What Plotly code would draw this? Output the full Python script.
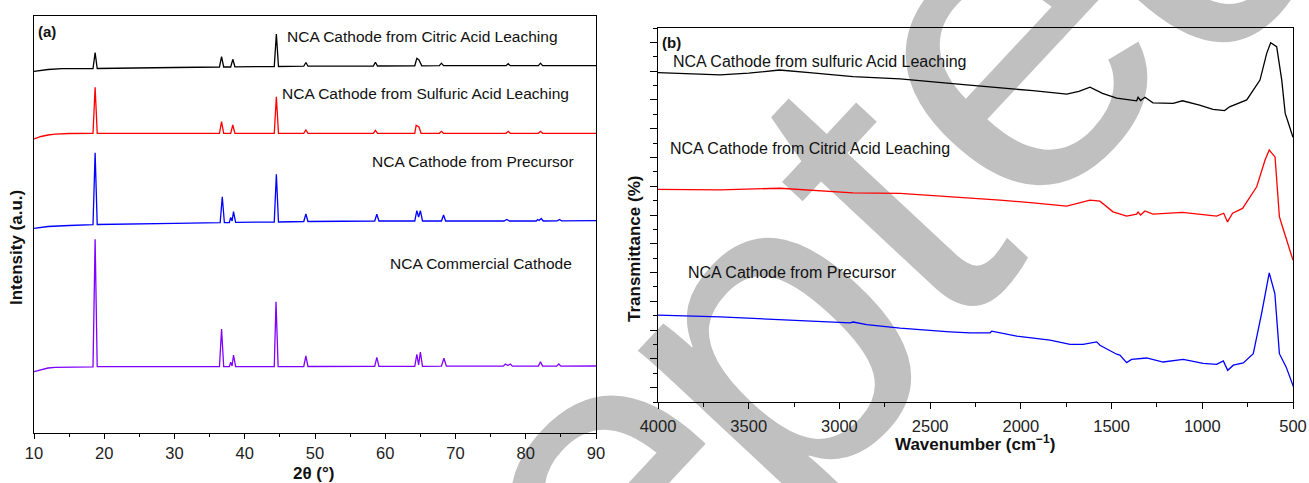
import plotly.graph_objects as go

W, H = 1309, 483
FONT = "Liberation Sans, Arial, sans-serif"

# ---------------- Panel (a): XRD ----------------
xrd_citric_angle = [10, 12, 14, 18.4, 18.7, 19.0, 30, 36.4, 36.7, 37.0, 38.0, 38.3, 38.6, 44.2, 44.5, 44.8,
                    48.4, 48.7, 49.0, 58.3, 58.6, 58.9, 64.2, 64.5, 64.8, 65.2, 67.7, 68.0, 68.3,
                    77.2, 77.5, 77.8, 81.8, 82.1, 82.4, 90]
xrd_citric_int = [361.7, 363.5, 364.3, 364.5, 380.3, 364.5, 365.5, 366.0, 376.3, 366.0, 366.0, 373.7, 366.2,
                  366.5, 399.0, 366.5, 366.8, 370.5, 366.8, 367.0, 370.7, 367.0, 367.2, 374.7, 373.0, 367.2,
                  367.3, 369.8, 367.3, 367.3, 369.3, 367.3, 367.3, 369.8, 367.3, 367.3]

xrd_sulfuric_angle = [10, 11, 12, 13, 15, 18.4, 18.7, 19.0, 36.4, 36.7, 37.0, 38.0, 38.3, 38.6, 44.2, 44.5, 44.8,
                      48.4, 48.7, 49.0, 58.3, 58.6, 58.9, 64.2, 64.4, 64.8, 65.1, 67.7, 68.0, 68.3,
                      77.2, 77.5, 77.8, 81.8, 82.1, 82.4, 90]
xrd_sulfuric_int = [294.0, 296.5, 298.0, 298.8, 299.5, 299.7, 345.7, 299.7, 299.7, 311.3, 299.7, 299.7, 308.0,
                    299.7, 299.7, 336.3, 299.7, 299.7, 303.0, 299.7, 299.7, 302.7, 299.7, 299.7, 307.7, 306.0,
                    299.7, 299.7, 301.7, 299.7, 299.7, 301.7, 299.7, 299.7, 301.7, 299.7, 299.7]

xrd_precursor_angle = [10, 12, 15, 18.4, 18.7, 19.0, 30, 36.5, 36.8, 37.1, 37.8, 38.0, 38.2, 38.4, 38.7,
                       44.2, 44.5, 44.8, 48.4, 48.7, 49.0, 58.5, 58.8, 59.1, 64.2, 64.5, 64.75, 65.0, 65.3,
                       68.0, 68.3, 68.6, 76.9, 77.3, 77.7, 81.5, 81.7, 81.9, 82.2, 82.5, 84.5, 84.8, 85.1, 90]
xrd_precursor_int = [204.7, 206.5, 207.5, 208.3, 280.3, 208.5, 209.7, 210.3, 236.3, 210.3, 210.5, 215.5, 212.0,
                     221.3, 210.6, 211.0, 258.7, 211.0, 211.5, 219.0, 211.5, 212.0, 218.7, 212.0, 212.0, 222.3,
                     216.0, 222.3, 212.0, 212.0, 218.0, 212.0, 212.0, 213.5, 212.0, 212.0, 213.5, 212.5, 214.5,
                     212.0, 212.2, 213.5, 212.2, 212.3]

xrd_commercial_angle = [10, 11, 12, 13, 15, 18.4, 18.7, 19.0, 36.4, 36.7, 37.0, 37.8, 38.0, 38.2, 38.4, 38.7,
                        44.2, 44.45, 44.75, 48.4, 48.7, 49.0, 58.5, 58.8, 59.1, 64.2, 64.5, 64.75, 65.0, 65.3,
                        68.0, 68.35, 68.7, 76.8, 77.1, 77.45, 77.8, 78.1, 81.8, 82.1, 82.4, 84.4, 84.7, 85.0, 90]
xrd_commercial_int = [61.3, 63.5, 65.0, 65.7, 66.0, 66.2, 193.7, 66.3, 66.3, 104.0, 66.3, 66.3, 70.7, 67.0,
                      78.0, 66.3, 66.4, 131.3, 66.4, 66.5, 77.0, 66.5, 66.6, 75.7, 66.6, 66.7, 78.7, 68.0,
                      81.0, 66.7, 66.8, 74.7, 66.8, 66.9, 69.0, 67.5, 69.0, 66.9, 66.9, 71.3, 66.9, 66.9,
                      69.0, 66.9, 67.0]

# ---------------- Panel (b): FTIR ----------------
ftir_sulfuric_wn = [4000, 3800, 3658, 3500, 3330, 3150, 2925, 2666, 2556, 2299, 1933, 1747, 1680, 1619, 1550,
                    1472, 1362, 1354, 1340, 1316, 1272, 1161, 1109, 1015, 941, 877, 850, 810, 755, 682, 645,
                    623, 590, 562, 543, 525, 500]
ftir_sulfuric_t = [114.5, 113.9, 113.7, 114.3, 115.4, 114.4, 113.1, 112.3, 111.6, 110.2, 108.2, 107.0, 108.0,
                   109.4, 107.3, 105.6, 104.7, 105.9, 104.8, 105.9, 104.0, 103.8, 104.7, 103.2, 101.7, 101.3,
                   102.6, 103.6, 105.0, 111.9, 121.2, 124.9, 123.5, 111.9, 100.3, 96.9, 92.0]

ftir_citric_wn = [4000, 3658, 3328, 2925, 2666, 2374, 2299, 2115, 1933, 1747, 1619, 1564, 1492, 1417, 1362,
                  1354, 1340, 1316, 1272, 1109, 921, 882, 861, 833, 778, 700, 654, 631, 599, 575, 558, 500]
ftir_citric_t = [73.9, 73.7, 74.3, 72.7, 72.5, 71.3, 70.8, 70.2, 69.2, 68.1, 70.2, 69.8, 66.1, 64.6, 65.3,
                 66.0, 65.0, 66.4, 65.3, 65.9, 64.6, 65.6, 62.6, 65.6, 67.3, 74.8, 84.1, 87.6, 85.2, 64.4,
                 60.9, 49.3]

ftir_precursor_wn = [4000, 3658, 2942, 2924, 2850, 2666, 2391, 2280, 2170, 2161, 2023, 1839, 1729, 1657, 1582,
                     1564, 1472, 1454, 1417, 1390, 1307, 1216, 1105, 995, 921, 884, 860, 829, 774, 719, 673,
                     631, 600, 575, 538, 497]
ftir_precursor_t = [30.2, 29.6, 27.5, 27.8, 26.9, 25.7, 24.4, 24.0, 24.0, 24.6, 22.9, 21.5, 20.0, 20.0, 20.9,
                    19.7, 16.6, 16.3, 13.7, 14.8, 15.3, 13.9, 14.8, 13.4, 13.1, 14.3, 11.0, 12.8, 13.6, 16.8,
                    30.8, 44.9, 37.7, 16.8, 12.2, 5.2]

xrd_series = [
    (xrd_citric_angle, xrd_citric_int, "#000000", "NCA Cathode from Citric Acid Leaching"),
    (xrd_sulfuric_angle, xrd_sulfuric_int, "#ff0000", "NCA Cathode from Sulfuric Acid Leaching"),
    (xrd_precursor_angle, xrd_precursor_int, "#0000ff", "NCA Cathode from Precursor"),
    (xrd_commercial_angle, xrd_commercial_int, "#8000ff", "NCA Commercial Cathode"),
]
ftir_series = [
    (ftir_sulfuric_wn, ftir_sulfuric_t, "#000000", "NCA Cathode from sulfuric Acid Leaching"),
    (ftir_citric_wn, ftir_citric_t, "#ff0000", "NCA Cathode from Citrid Acid Leaching"),
    (ftir_precursor_wn, ftir_precursor_t, "#0000ff", "NCA Cathode from Precursor"),
]

# watermark "Accepted": one glyph per entry, placed at its centre (pixels)
wm_letters = ["A", "c", "c", "e", "p", "t", "e", "d"]
wm_x = [140, 290, 438, 572, 731, 847, 967, 1146]
wm_y = [960, 790, 612, 460, 309, 168, 14, -135]

fig = go.Figure()
for xs, ys, col, name in xrd_series:
    fig.add_trace(go.Scatter(x=xs, y=ys, mode="lines", line=dict(color=col, width=1.3),
                             name=name, xaxis="x", yaxis="y", showlegend=False))
for xs, ys, col, name in ftir_series:
    fig.add_trace(go.Scatter(x=xs, y=ys, mode="lines", line=dict(color=col, width=1.3),
                             name=name, xaxis="x2", yaxis="y2", showlegend=False))

def px(x):
    return x / W

def py(y):
    return 1 - y / H

tickfont = dict(family=FONT, size=16.5, color="#222222")
axis_common = dict(showline=True, linecolor="black", linewidth=1.2, mirror=True, showgrid=False,
                   zeroline=False, automargin=False)

fig.update_layout(
    width=W, height=H, margin=dict(l=0, r=0, t=0, b=0, pad=0), autosize=False,
    paper_bgcolor="white", plot_bgcolor="rgba(0,0,0,0)",
    xaxis=dict(domain=[px(34), px(596)], range=[10, 90], tickmode="linear", tick0=10, dtick=10,
               ticks="outside", ticklen=5, tickwidth=1.2, tickcolor="black", tickfont=tickfont,
               minor=dict(ticks="outside", ticklen=3, tickwidth=1.2, tickcolor="black", dtick=5, tick0=10),
               anchor="y", **axis_common),
    yaxis=dict(domain=[py(433), py(16)], range=[0, 417], showticklabels=False, ticks="",
               anchor="x", **axis_common),
    xaxis2=dict(domain=[px(658), px(1293)], range=[4000, 500], tickmode="linear", tick0=500, dtick=500,
                ticks="outside", ticklen=6, tickwidth=1.2, tickcolor="black", tickfont=tickfont,
                minor=dict(ticks="outside", ticklen=4, tickwidth=1.2, tickcolor="black", dtick=250, tick0=500),
                anchor="y2", ticklabelstandoff=3, **axis_common),
    yaxis2=dict(domain=[py(402), py(28)], range=[0, 130], showticklabels=False, tickmode="linear",
                tick0=5, dtick=10, ticks="outside", ticklen=7, tickwidth=1.2, tickcolor="black",
                minor=dict(ticks="outside", ticklen=4, tickwidth=1.2, tickcolor="black", dtick=5, tick0=0),
                anchor="x2", **axis_common),
)

# watermark behind the data
for ch, cx, cy in zip(wm_letters, wm_x, wm_y):
    fig.add_shape(type="rect", xref="paper", yref="paper", x0=px(cx - 1), x1=px(cx + 1),
                  y0=py(cy + 1), y1=py(cy - 1), line=dict(width=0), fillcolor="rgba(0,0,0,0)",
                  layer="below",
                  label=dict(text=ch, textangle=-47, textposition="middle center", padding=0,
                             font=dict(family=FONT, size=441, color="#c0c0c0")))

def ann(text, x, y, size, bold=False, xanchor="left", angle=0):
    fig.add_annotation(text=("<b>%s</b>" % text) if bold else text, xref="paper", yref="paper",
                       x=px(x), y=py(y), xanchor=xanchor, yanchor="middle", showarrow=False,
                       textangle=angle, font=dict(family=FONT, size=size, color="#111111"),
                       borderpad=0)

ann("(a)", 37, 31, 15, bold=True)
ann(xrd_series[0][3], 286, 37, 15.5)
ann(xrd_series[1][3], 281, 93, 15.5)
ann(xrd_series[2][3], 371, 162, 15.5)
ann(xrd_series[3][3], 389, 263, 15.5)
ann("Intensity (a.u.)", 16, 248, 17, bold=True, xanchor="center", angle=-90)
ann("2θ (°)", 314, 473, 17, bold=True, xanchor="center")

ann("(b)", 661, 43, 15, bold=True)
ann(ftir_series[0][3], 672, 62, 16)
ann(ftir_series[1][3], 669, 148, 16)
ann(ftir_series[2][3], 687, 272, 16)
ann("Transmittance (%)", 634, 249, 17, bold=True, xanchor="center", angle=-90)
ann("Wavenumber (cm<sup>−1</sup>)", 975, 443, 17, bold=True, xanchor="center")

fig.write_html("out.html")
